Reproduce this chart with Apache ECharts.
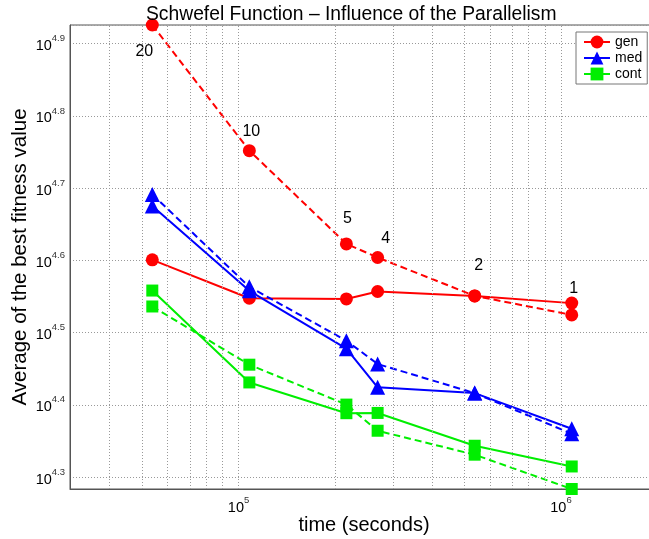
<!DOCTYPE html>
<html>
<head>
<meta charset="utf-8">
<script src="https://cdn.jsdelivr.net/npm/echarts@6/dist/echarts.min.js"></script>
<style>html,body{margin:0;padding:0;background:#fff}#c{width:649px;height:539px}</style>
</head>
<body>
<div id="c"></div>
<script>
// ---- data (time in seconds, average best fitness) ----
const times = [54000, 108000, 216000, 270000, 540000, 1080000];
const procLabels = ['20', '10', '5', '4', '2', '1'];
const genSolid   = [39880, 35290, 35210, 36050, 35550, 34740];
const genDashed  = [84300, 56480, 41960, 40180, 35550, 33460];
const medSolid   = [47360, 36130, 30040, 26560, 26080, 23280];
const medDashed  = [49130, 36590, 30820, 28610, 26080, 22910];
const contSolid  = [36160, 26980, 24460, 24480, 22050, 20640];
const contDashed = [34370, 28550, 25140, 23130, 21430, 19210];
const xRange = [30000, 2000000];
const yRange = [19210, 84300];
const xTickLabels = ['5', '6'];                       // exponents of 10
const yTickLabels = ['4.3', '4.4', '4.5', '4.6', '4.7', '4.8', '4.9'];
const xGridValues = [40000, 50000, 60000, 70000, 80000, 90000, 100000,
  200000, 300000, 400000, 500000, 600000, 700000, 800000, 900000, 1000000];
// label offsets (px) for the processor-count annotations
const annotOffsets = [[-8, 27], [2, -19], [1, -25], [8, -19], [4, -30], [2, -26]];

const L = Math.log10;
const FONT = "'Liberation Sans', Arial, sans-serif";
const pts = arr => arr.map((v, i) => [L(times[i]), L(v)]);

const chart = echarts.init(document.getElementById('c'), null, {renderer: 'canvas'});

function mkSeries(name, data, color, symbol, size, dashed) {
  return {
    name: name, type: 'line', data: data, clip: false,
    symbol: symbol, symbolSize: size, showSymbol: true,
    lineStyle: {color: color, width: 2, type: dashed ? [7, 4] : 'solid'},
    itemStyle: {color: color},
    emphasis: {disabled: true}, animation: false
  };
}

const genDashedData = pts(genDashed).map((p, i) => ({
  value: p,
  label: {show: true, formatter: procLabels[i], position: 'inside',
          offset: annotOffsets[i], color: '#000', fontSize: 16, fontFamily: FONT}
}));

const supRich = {
  b: {fontSize: 14.5, fontFamily: FONT, color: '#000', verticalAlign: 'bottom', lineHeight: 20},
  s: {fontSize: 9.5, fontFamily: FONT, color: '#333', verticalAlign: 'top', lineHeight: 20}
};
const fmt = list => v => {
  const e = list.find(t => Math.abs(parseFloat(t) - v) < 1e-6);
  return e ? '{b|10}{s|' + e + '}' : '';
};

const option = {
  backgroundColor: '#fff',
  animation: false,
  title: {
    text: 'Schwefel Function \u2013 Influence of the Parallelism',
    left: 141, top: 0,
    textStyle: {fontSize: 19.3, fontWeight: 'normal', color: '#000', fontFamily: FONT}
  },
  legend: {
    data: ['gen', 'med', 'cont'],
    orient: 'vertical', left: 576, top: 32,
    backgroundColor: '#fff', borderColor: '#777', borderWidth: 1,
    padding: [3, 5, 3, 7], itemGap: 2, itemWidth: 26, itemHeight: 16,
    textStyle: {fontSize: 14, color: '#000', fontFamily: FONT},
    selectedMode: false
  },
  grid: {
    left: 70, top: 25, width: 588, height: 464,
    outerBoundsMode: 'none', containLabel: false,
    show: true, borderColor: '#555', borderWidth: 1, backgroundColor: 'transparent'
  },
  xAxis: {
    type: 'value', min: L(xRange[0]), max: L(xRange[1]),
    name: 'time (seconds)', nameLocation: 'middle', nameGap: 26, nameMoveOverlap: false,
    nameTextStyle: {fontSize: 20, color: '#000', fontFamily: FONT},
    axisLine: {lineStyle: {color: '#555', width: 1}},
    axisTick: {show: false},
    splitLine: {show: false},
    axisLabel: {
      margin: 6, customValues: xTickLabels.map(parseFloat),
      formatter: fmt(xTickLabels), rich: supRich
    }
  },
  yAxis: {
    type: 'value', min: L(yRange[0]), max: L(yRange[1]),
    name: 'Average of the best fitness value', nameLocation: 'middle', nameGap: 39, nameMoveOverlap: false,
    nameTextStyle: {fontSize: 20.5, color: '#000', fontFamily: FONT},
    axisLine: {show: true, lineStyle: {color: '#555', width: 1}},
    axisTick: {show: false},
    splitLine: {show: true, lineStyle: {color: '#999', width: 1, type: [1, 2]}},
    axisLabel: {
      margin: 5, showMinLabel: false, showMaxLabel: false,
      formatter: fmt(yTickLabels), rich: supRich
    }
  },
  series: [
    {
      name: 'vgrid', type: 'line', data: [], silent: true,
      markLine: {
        silent: true, symbol: ['none', 'none'], animation: false,
        label: {show: false},
        lineStyle: {color: '#999', width: 1, type: [1, 2]},
        data: xGridValues.map(v => ({xAxis: L(v)}))
      }
    },
    mkSeries('gen', pts(genSolid), '#ff0000', 'circle', 13, false),
    mkSeries('gen ', genDashedData, '#ff0000', 'circle', 13, true),
    mkSeries('med', pts(medSolid), '#0000ff', 'triangle', 15, false),
    mkSeries('med ', pts(medDashed), '#0000ff', 'triangle', 15, true),
    mkSeries('cont', pts(contSolid), '#00ee00', 'rect', 12, false),
    mkSeries('cont ', pts(contDashed), '#00ee00', 'rect', 12, true)
  ]
};
chart.setOption(option);
</script>
</body>
</html>
